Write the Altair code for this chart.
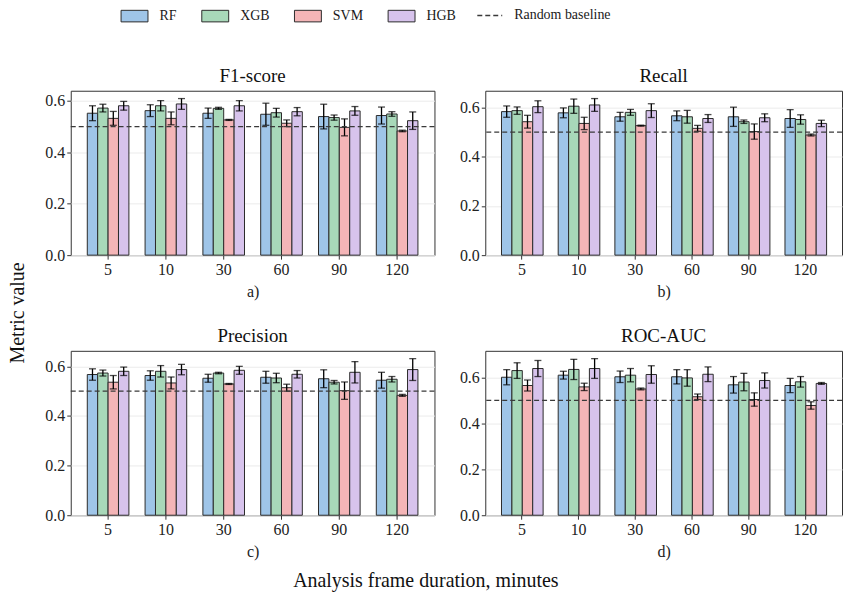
import altair as alt
import pandas as pd

# Frame durations (minutes) and classifiers
durations = ["5", "10", "30", "60", "90", "120"]
models = ["RF", "XGB", "SVM", "HGB"]
fills = ["#9fc5e8", "#a8d8b9", "#f4b5b7", "#d7c3ec"]

# Mean and standard deviation of each metric, per classifier, per duration
f1_mean = {
    "RF":  [0.552, 0.562, 0.552, 0.548, 0.539, 0.543],
    "XGB": [0.572, 0.581, 0.571, 0.554, 0.535, 0.549],
    "SVM": [0.532, 0.532, 0.526, 0.513, 0.497, 0.483],
    "HGB": [0.581, 0.588, 0.581, 0.558, 0.561, 0.523],
}
f1_std = {
    "RF":  [0.029, 0.023, 0.020, 0.043, 0.048, 0.033],
    "XGB": [0.015, 0.020, 0.004, 0.017, 0.010, 0.009],
    "SVM": [0.027, 0.025, 0.002, 0.013, 0.033, 0.003],
    "HGB": [0.017, 0.021, 0.020, 0.016, 0.017, 0.034],
}
recall_mean = {
    "RF":  [0.583, 0.578, 0.562, 0.566, 0.562, 0.555],
    "XGB": [0.587, 0.605, 0.580, 0.562, 0.542, 0.551],
    "SVM": [0.542, 0.535, 0.526, 0.515, 0.502, 0.488],
    "HGB": [0.603, 0.610, 0.587, 0.555, 0.558, 0.535],
}
recall_std = {
    "RF":  [0.023, 0.020, 0.018, 0.020, 0.039, 0.036],
    "XGB": [0.015, 0.029, 0.012, 0.026, 0.007, 0.019],
    "SVM": [0.026, 0.025, 0.002, 0.012, 0.031, 0.004],
    "HGB": [0.024, 0.026, 0.028, 0.016, 0.016, 0.013],
}
precision_mean = {
    "RF":  [0.567, 0.563, 0.552, 0.556, 0.550, 0.544],
    "XGB": [0.573, 0.580, 0.573, 0.553, 0.536, 0.548],
    "SVM": [0.536, 0.533, 0.529, 0.514, 0.502, 0.483],
    "HGB": [0.580, 0.587, 0.584, 0.568, 0.576, 0.587],
}
precision_std = {
    "RF":  [0.023, 0.019, 0.016, 0.024, 0.036, 0.032],
    "XGB": [0.012, 0.023, 0.003, 0.019, 0.007, 0.011],
    "SVM": [0.027, 0.024, 0.002, 0.014, 0.035, 0.004],
    "HGB": [0.017, 0.021, 0.016, 0.015, 0.043, 0.044],
}
rocauc_mean = {
    "RF":  [0.601, 0.610, 0.603, 0.603, 0.568, 0.565],
    "XGB": [0.630, 0.635, 0.610, 0.598, 0.580, 0.581],
    "SVM": [0.565, 0.559, 0.550, 0.516, 0.504, 0.478],
    "HGB": [0.639, 0.639, 0.613, 0.614, 0.587, 0.574],
}
rocauc_std = {
    "RF":  [0.033, 0.017, 0.025, 0.031, 0.036, 0.031],
    "XGB": [0.034, 0.044, 0.029, 0.036, 0.038, 0.023],
    "SVM": [0.024, 0.016, 0.004, 0.012, 0.029, 0.016],
    "HGB": [0.035, 0.043, 0.038, 0.032, 0.033, 0.004],
}

baseline_label = ["Random baseline"]
baseline_value = [0.5]

FONT = "Liberation Serif"
RECT = "M-1,-0.43H1V0.43H-1Z"


def panel(title, letter, mean, std, width):
    rows = []
    for m in models:
        for d, mu, sd in zip(durations, mean[m], std[m]):
            rows.append({"duration": d, "model": m, "mean": mu,
                         "lo": mu - sd, "hi": mu + sd})
    df = pd.DataFrame(rows)
    top = df["hi"].max() * 1.05

    x = alt.X("duration:N", sort=durations,
              scale=alt.Scale(paddingInner=0.28, paddingOuter=0.286),
              axis=alt.Axis(title=letter, labelAngle=0, tickSize=4,
                            titlePadding=6))
    xo = alt.XOffset("model:N", sort=models,
                     scale=alt.Scale(domain=models, paddingInner=0,
                                     paddingOuter=0))
    yscale = alt.Scale(domain=[0, top], nice=False, zero=True)
    yaxis = alt.Axis(title=None, values=[0, 0.2, 0.4, 0.6], format=".1f",
                     tickSize=4, grid=True, gridColor="#ebebeb")

    base = alt.Chart(df)
    bars = base.mark_bar(stroke="#2b2b2b", strokeWidth=1).encode(
        x=x, xOffset=xo,
        y=alt.Y("mean:Q", scale=yscale, axis=yaxis),
        color=alt.Color(
            "model:N", sort=models,
            scale=alt.Scale(domain=models, range=fills),
            legend=alt.Legend(
                title=None, orient="none", legendX=50, legendY=-89,
                direction="horizontal",
                symbolType=RECT, symbolSize=729, symbolStrokeColor="#2b2b2b",
                symbolStrokeWidth=1, symbolOpacity=1,
                labelFont=FONT, labelFontSize=14, labelFontWeight="normal",
                labelColor="#1a1a1a", labelOffset=11, columnPadding=22,
            ),
        ),
    )
    err = base.mark_rule(color="black", strokeWidth=1.3).encode(
        x=x, xOffset=xo, y=alt.Y("lo:Q", scale=yscale), y2="hi:Q")
    cap_lo = base.mark_tick(color="black", orient="horizontal", size=7,
                            thickness=1.3).encode(
        x=x, xOffset=xo, y=alt.Y("lo:Q", scale=yscale))
    cap_hi = base.mark_tick(color="black", orient="horizontal", size=7,
                            thickness=1.3).encode(
        x=x, xOffset=xo, y=alt.Y("hi:Q", scale=yscale))

    ref = alt.Chart(pd.DataFrame({"label": baseline_label,
                                  "v": baseline_value})).mark_rule(
        color="#3a3a3a", strokeWidth=1.3).encode(
        y=alt.Y("v:Q", scale=yscale),
        strokeDash=alt.StrokeDash(
            "label:N",
            scale=alt.Scale(domain=baseline_label, range=[[5, 3]]),
            legend=alt.Legend(
                title=None, orient="none", legendX=407, legendY=-89,
                symbolType="stroke",
                symbolSize=625, symbolStrokeColor="#3a3a3a",
                symbolStrokeWidth=1.3,
                labelFont=FONT, labelFontSize=14, labelFontWeight="normal",
                labelColor="#1a1a1a", labelOffset=11,
            ),
        ),
    )

    return alt.layer(bars, err, cap_lo, cap_hi, ref).properties(
        width=width, height=165,
        title=alt.TitleParams(title, fontSize=19, offset=5),
    )


row1 = alt.hconcat(
    panel("F1-score", "a)", f1_mean, f1_std, 365),
    panel("Recall", "b)", recall_mean, recall_std, 358),
    spacing=22,
)
row2 = alt.hconcat(
    panel("Precision", "c)", precision_mean, precision_std, 365),
    panel("ROC-AUC", "d)", rocauc_mean, rocauc_std, 358),
    spacing=22,
)

grid = alt.vconcat(row1, row2, spacing=26).properties(
    title=alt.TitleParams("Metric value", orient="left", anchor="middle",
                          fontSize=20, offset=16)
)

chart = alt.vconcat(grid).properties(
    title=alt.TitleParams("Analysis frame duration, minutes", orient="bottom",
                          anchor="middle", fontSize=20, offset=12),
    padding={"left": 8, "right": 2, "top": 1, "bottom": 4},
).configure(
    font=FONT,
).configure_view(
    stroke="#333333", strokeWidth=1,
).configure_axis(
    labelFont=FONT, labelFontSize=16, labelColor="#222222",
    titleFont=FONT, titleFontSize=16, titleFontWeight="normal",
    titleColor="#222222", domain=False, tickColor="#333333",
    labelPadding=2,
).configure_title(
    font=FONT, fontWeight="normal", color="#111111",
).configure_legend(
    padding=0,
)

chart.save("out.html", embed_options={"renderer": "svg", "actions": False})
